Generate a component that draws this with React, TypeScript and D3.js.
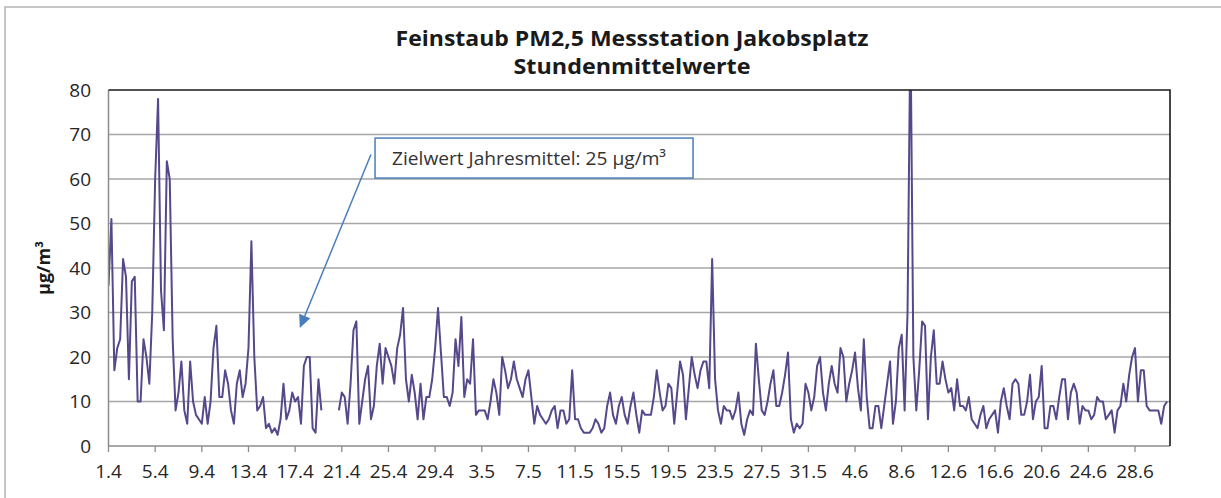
import React, { useEffect, useRef } from 'react'
import * as d3 from 'd3'

const april = [
  36, 51, 17, 22,  24, 42, 38, 15,  37, 38, 10, 10,  24, 20, 14, 30,  60, 78, 35, 26,
  64, 60, 24, 8,  12, 19, 8, 5,  19, 10, 7, 6,  5, 11, 5, 10,  22, 27, 11, 11,
  17, 14, 8, 5,  14, 17, 11, 14,  22, 46, 20, 8,  9, 11, 4, 5,  3, 4, 2.5, 6,
  14, 6, 8, 12,  10, 11, 5, 18,  20, 20, 4, 3,  15, 8, null, null,  null, null, null, 8,
  12, 11, 5, 14,  26, 28, 5, 10,  15, 18, 6, 9,  18, 23, 14, 22,  20, 18, 14, 22,
  25, 31, 15, 10,  16, 12, 6, 14,  6, 11, 11, 15,  22, 31, 21, 11,  11, 9, 12, 24,
]
const may = [
  18, 29, 11, 15,  14, 24, 7, 8,  8, 8, 6, 10,  15, 12, 7, 20,  17, 13, 15, 19,
  15, 13, 11, 15,  17, 11, 5, 9,  7, 6, 5, 6,  8, 9, 4, 8,  8, 5, 6, 17,
  6, 6, 4, 3,  3, 3, 4, 6,  5, 3, 4, 9,  12, 7, 5, 9,  11, 7, 5, 9,
  12, 7, 3, 8,  7, 7, 7, 11,  17, 12, 8, 9,  14, 13, 5, 12,  19, 16, 6, 13,
  20, 16, 13, 17,  19, 19, 13, 42,  15, 8, 5, 9,  8, 8, 6, 8,  12, 5, 2.5, 6,
  8, 7, 23, 15,  8, 7, 10, 14,  17, 9, 9, 12,  16, 21, 6, 3,  5, 4, 5, 14,
  12, 8, 11, 18,
]
const june = [
  20, 12, 8, 14,  18, 14, 12, 22,  20, 10, 14, 17,  21, 13, 8, 24,  11, 4, 4, 9,
  9, 4, 9, 14,  19, 5, 10, 22,  25, 8, 30, 95,  20, 8, 17, 28,  27, 6, 20, 26,
  14, 14, 19, 15,  12, 13, 8, 15,  9, 9, 8, 11,  6, 5, 4, 7,  9, 4, 6, 7,
  8, 3, 10, 13,  9, 6, 14, 15,  14, 7, 7, 10,  16, 6, 10, 11,  18, 4, 4, 9,
  9, 6, 11, 15,  15, 6, 12, 14,  12, 5, 9, 8,  8, 6, 7, 11,  10, 10, 6, 7,
  8, 3, 8, 9,  14, 10, 16, 20,  22, 10, 17, 17,  9, 8, 8, 8,  8, 5, 9, 10,
]

const tickLabels = ['1.4', '5.4', '9.4', '13.4', '17.4', '21.4', '25.4', '29.4', '3.5', '7.5', '11.5', '15.5',
  '19.5', '23.5', '27.5', '31.5', '4.6', '8.6', '12.6', '16.6', '20.6', '24.6', '28.6']
const yTicks = [0, 10, 20, 30, 40, 50, 60, 70, 80]
const titleLines = ['Feinstaub PM2,5 Messstation Jakobsplatz', 'Stundenmittelwerte']
const yTitle = 'µg/m³'
const noteText = 'Zielwert Jahresmittel: 25 µg/m³'

const W = 1221
const H = 498
const font = "'Open Sans', 'Noto Sans', sans-serif"

export default function App() {
  const ref = useRef<SVGSVGElement>(null)

  useEffect(() => {
    const svg = d3.select(ref.current)
    svg.selectAll('*').remove()

    const values = [...april, ...may, ...june]
    const points = values.map((v, i) => ({ day: i / 4, v }))
    const days = 91

    const x = d3.scaleLinear().domain([0, days]).range([108.5, 1170])
    const y = d3.scaleLinear().domain([0, 80]).range([446, 90])

    // outer frame
    svg.append('rect').attr('x', 5).attr('y', 7).attr('width', 1300).attr('height', 600)
      .attr('fill', 'white').attr('stroke', '#b4b4b4').attr('stroke-width', 1.5)

    // grid
    svg.append('g').selectAll('line').data(yTicks.filter(t => t > 0 && t < 80)).join('line')
      .attr('x1', x(0)).attr('x2', x(days)).attr('y1', d => y(d)).attr('y2', d => y(d))
      .attr('stroke', '#a6a6a6').attr('stroke-width', 1.4)

    // y labels
    svg.append('g').selectAll('text').data(yTicks).join('text')
      .attr('x', 91).attr('y', d => y(d)).attr('dy', '0.35em')
      .attr('text-anchor', 'end').attr('font-family', font).attr('font-size', 19).attr('fill', '#262626')
      .text(d => d)

    // x ticks & labels
    const tickDays = tickLabels.map((_, i) => i * 4)
    svg.append('g').selectAll('line').data(tickDays).join('line')
      .attr('x1', d => x(d)).attr('x2', d => x(d)).attr('y1', 446).attr('y2', 452)
      .attr('stroke', '#8c8c8c').attr('stroke-width', 1.3)
    svg.append('g').selectAll('text').data(tickLabels).join('text')
      .attr('x', (_, i) => x(tickDays[i])).attr('y', 478)
      .attr('text-anchor', 'middle').attr('font-family', font).attr('font-size', 19).attr('fill', '#262626')
      .text(d => d)

    // series
    svg.append('clipPath').attr('id', 'plotclip').append('rect')
      .attr('x', x(0)).attr('y', y(80)).attr('width', x(days) - x(0)).attr('height', y(0) - y(80))
    const line = d3.line<{ day: number; v: number | null }>()
      .defined(d => d.v != null)
      .x(d => x(d.day)).y(d => y(d.v as number))
    svg.append('path').datum(points).attr('d', line).attr('clip-path', 'url(#plotclip)')
      .attr('fill', 'none').attr('stroke', '#56488a').attr('stroke-width', 2).attr('stroke-linejoin', 'round')

    // axes / border
    svg.append('line').attr('x1', x(0)).attr('x2', x(0)).attr('y1', y(80)).attr('y2', y(0))
      .attr('stroke', '#8c8c8c').attr('stroke-width', 1.5)
    svg.append('line').attr('x1', x(0)).attr('x2', x(days)).attr('y1', y(0)).attr('y2', y(0))
      .attr('stroke', '#8c8c8c').attr('stroke-width', 1.5)
    svg.append('path')
      .attr('d', `M${x(0)},${y(80)}H${x(days)}V${y(0)}`)
      .attr('fill', 'none').attr('stroke', '#1a1a1a').attr('stroke-width', 1.6)

    // titles
    svg.append('g').selectAll('text').data(titleLines).join('text')
      .attr('x', 632).attr('y', (_, i) => 46 + i * 28)
      .attr('text-anchor', 'middle').attr('font-family', font).attr('font-weight', 'bold')
      .attr('font-size', 22).attr('fill', '#1a1a1a')
      .attr('textLength', (_, i) => (i === 0 ? 473 : 237)).attr('lengthAdjust', 'spacingAndGlyphs')
      .text(d => d)

    svg.append('text')
      .attr('transform', `translate(50, ${(y(0) + y(80)) / 2}) rotate(-90)`)
      .attr('text-anchor', 'middle').attr('font-family', font).attr('font-weight', 'bold')
      .attr('font-size', 18).attr('fill', '#1a1a1a')
      .text(yTitle)

    // annotation
    const tip = { day: 16.4, v: 26.5 }
    const tail = { day: 22.5, v: 65.5 }
    const tx = x(tip.day), ty = y(tip.v)
    const sx = x(tail.day), sy = y(tail.v)
    const ang = Math.atan2(ty - sy, tx - sx)
    const hl = 13, hw = 6
    const bx = tx - hl * Math.cos(ang), by = ty - hl * Math.sin(ang)
    svg.append('line').attr('x1', sx).attr('y1', sy).attr('x2', bx).attr('y2', by)
      .attr('stroke', '#4a7ebb').attr('stroke-width', 1.5)
    svg.append('polygon')
      .attr('points', [
        [tx, ty],
        [bx + hw * Math.sin(ang), by - hw * Math.cos(ang)],
        [bx - hw * Math.sin(ang), by + hw * Math.cos(ang)],
      ].map(p => p.join(',')).join(' '))
      .attr('fill', '#4a7ebb')

    const boxX = x(22.85), boxY = y(69.2)
    svg.append('rect').attr('x', boxX).attr('y', boxY).attr('width', 318).attr('height', 40)
      .attr('fill', 'white').attr('stroke', '#4a7ebb').attr('stroke-width', 1.5)
    svg.append('text').attr('x', boxX + 17).attr('y', boxY + 27)
      .attr('font-family', font).attr('font-size', 18.5).attr('fill', '#333')
      .attr('textLength', 274).attr('lengthAdjust', 'spacingAndGlyphs')
      .text(noteText)
  }, [])

  return (
    <div style={{ position: 'absolute', left: 0, top: 0 }}>
      <svg ref={ref} width={W} height={H} style={{ display: 'block' }} />
    </div>
  )
}
